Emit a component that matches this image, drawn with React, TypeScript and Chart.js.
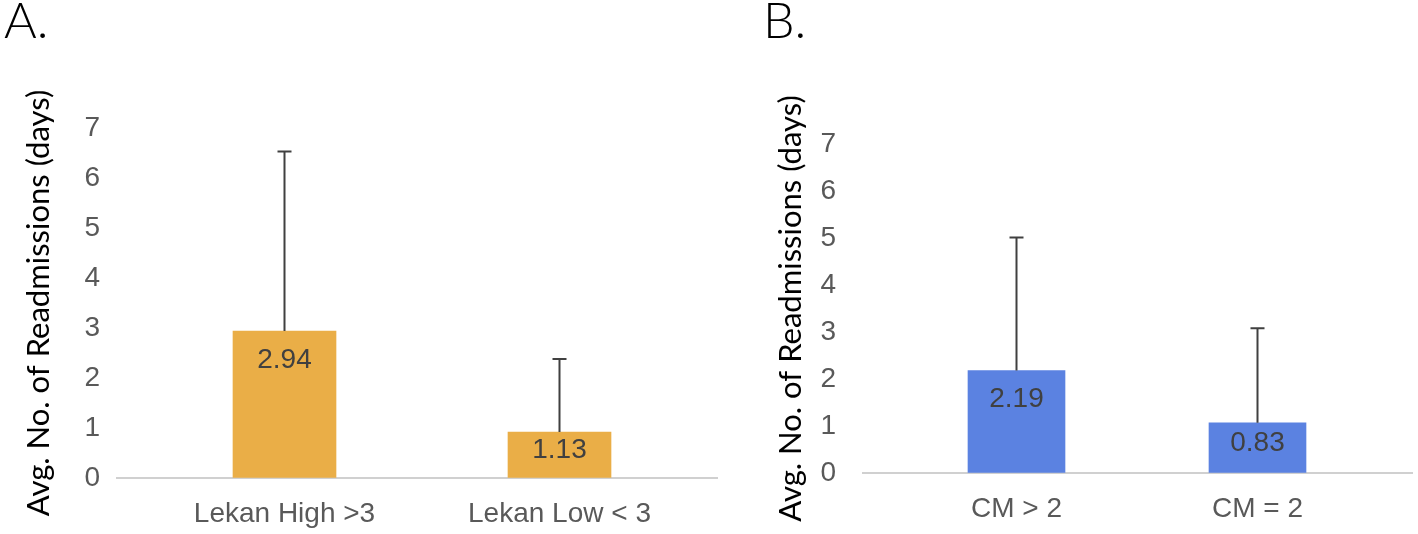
import React, { useEffect, useRef } from "react";
import { Chart, registerables } from "chart.js";

Chart.register(...registerables);

// ---- Data ----
const categoriesA = ["Lekan High >3", "Lekan Low < 3"];
const barValuesA = [2.94, 0.92];
const labelTextsA = ["2.94", "1.13"];
const errorTopsA = [6.53, 2.38];

const categoriesB = ["CM > 2", "CM = 2"];
const barValuesB = [2.18, 1.07];
const labelTextsB = ["2.19", "0.83"];
const errorTopsB = [5.01, 3.08];

const yTicks = [0, 1, 2, 3, 4, 5, 6, 7];
const yTitle = "Avg. No. of Readmissions (days)";
const panelTitles = ["A.", "B."];

const SANS = '"Liberation Sans", Arial, sans-serif';
const TITLE_FONT = 'Lato, "Open Sans", sans-serif';

const overlayPlugin = {
  id: "overlay",
  beforeDatasetsDraw(chart: any, _args: any, opts: any) {
    const ctx = chart.ctx;
    const y = chart.scales.y;
    const y0 = y.getPixelForValue(0);
    ctx.save();
    ctx.strokeStyle = opts.baselineColor;
    ctx.lineWidth = 2;
    ctx.beginPath();
    ctx.moveTo(opts.baselineFrom, y0);
    ctx.lineTo(opts.baselineTo, y0);
    ctx.stroke();
    ctx.restore();
  },
  afterDatasetsDraw(chart: any, _args: any, opts: any) {
    const ctx = chart.ctx;
    const y = chart.scales.y;
    const meta = chart.getDatasetMeta(0);
    ctx.save();
    // error bars
    ctx.strokeStyle = "#404040";
    ctx.lineWidth = 2;
    meta.data.forEach((bar: any, i: number) => {
      const yErr = y.getPixelForValue(opts.errorTops[i]);
      ctx.beginPath();
      ctx.moveTo(bar.x, bar.y);
      ctx.lineTo(bar.x, yErr);
      ctx.moveTo(bar.x - 7, yErr);
      ctx.lineTo(bar.x + 7, yErr);
      ctx.stroke();
    });
    // data labels
    ctx.fillStyle = "#404040";
    ctx.font = `28px ${SANS}`;
    ctx.textAlign = "center";
    ctx.textBaseline = "middle";
    meta.data.forEach((bar: any, i: number) => {
      const ly = Math.min(bar.y + 29, (bar.y + bar.base) / 2 - 4);
      ctx.fillText(opts.labels[i], bar.x, ly);
    });
    // panel letter
    ctx.fillStyle = "#000";
    ctx.font = `300 50px ${TITLE_FONT}`;
    ctx.textAlign = "left";
    ctx.textBaseline = "alphabetic";
    ctx.fillText(opts.panelTitle, opts.panelX, 38);
    ctx.restore();
  },
};

type PanelProps = {
  width: number;
  categories: string[];
  values: number[];
  labels: string[];
  errors: number[];
  color: string;
  panelTitle: string;
  panelX: number;
  padTop: number;
  padRight: number;
  yWidth: number;
  yTickGap: number;
  xHeight: number;
  titlePad: number;
  barThickness: number;
  baselineFrom: number;
  baselineTo: number;
};

function Panel(p: PanelProps) {
  const ref = useRef<HTMLCanvasElement>(null);
  useEffect(() => {
    if (!ref.current) return;
    const chart = new Chart(ref.current, {
      type: "bar",
      data: {
        labels: p.categories,
        datasets: [
          {
            data: p.values,
            backgroundColor: p.color,
            barThickness: p.barThickness,
          },
        ],
      },
      plugins: [overlayPlugin],
      options: {
        animation: false,
        responsive: false,
        maintainAspectRatio: false,
        layout: { padding: { left: 0, right: p.padRight, top: p.padTop, bottom: 0 } },
        plugins: {
          legend: { display: false },
          tooltip: { enabled: false },
          overlay: {
            errorTops: p.errors,
            labels: p.labels,
            panelTitle: p.panelTitle,
            panelX: p.panelX,
            baselineColor: "#d0d0d0",
            baselineFrom: p.baselineFrom,
            baselineTo: p.baselineTo,
          },
        } as any,
        scales: {
          x: {
            grid: { display: false },
            border: { display: false },
            ticks: {
              color: "#595959",
              font: { family: SANS, size: 28 },
              padding: 11,
              maxRotation: 0,
              autoSkip: false,
            },
            afterFit: (s: any) => {
              s.height = p.xHeight;
            },
          },
          y: {
            min: 0,
            max: 7,
            grid: {
              display: true,
              drawOnChartArea: false,
              drawTicks: true,
              tickLength: p.yTickGap,
              tickColor: "rgba(0,0,0,0)",
              color: "rgba(0,0,0,0)",
            },
            border: { display: false },
            afterBuildTicks: (s: any) => {
              s.ticks = yTicks.map((v) => ({ value: v }));
            },
            ticks: {
              color: "#595959",
              font: { family: SANS, size: 28 },
              padding: 6,
            },
            title: {
              display: true,
              text: yTitle,
              color: "#000",
              font: { family: TITLE_FONT, size: 31 },
              padding: { top: p.titlePad, bottom: 0 },
            },
            afterFit: (s: any) => {
              s.width = p.yWidth;
            },
          },
        },
      } as any,
    });
    return () => chart.destroy();
  }, []);
  return <canvas ref={ref} width={p.width} height={534} style={{ display: "block" }} />;
}

export default function App() {
  useEffect(() => {
    document.body.style.margin = "0";
  }, []);
  return (
    <div style={{ position: "relative", width: 1418, height: 534, background: "#fff" }}>
      <div style={{ position: "absolute", left: 0, top: 0 }}>
        <Panel
          width={740}
          categories={categoriesA}
          values={barValuesA}
          labels={labelTextsA}
          errors={errorTopsA}
          color="#EAAE47"
          panelTitle={panelTitles[0]}
          panelX={4}
          padTop={128}
          padRight={43}
          yWidth={147}
          yTickGap={41}
          xHeight={56}
          titlePad={20}
          barThickness={103}
          baselineFrom={116}
          baselineTo={718}
        />
      </div>
      <div style={{ position: "absolute", left: 740, top: 0 }}>
        <Panel
          width={678}
          categories={categoriesB}
          values={barValuesB}
          labels={labelTextsB}
          errors={errorTopsB}
          color="#5B82E1"
          panelTitle={panelTitles[1]}
          panelX={23}
          padTop={144}
          padRight={40}
          yWidth={156}
          yTickGap={54}
          xHeight={61}
          titlePad={32}
          barThickness={97}
          baselineFrom={122}
          baselineTo={673}
        />
      </div>
    </div>
  );
}
